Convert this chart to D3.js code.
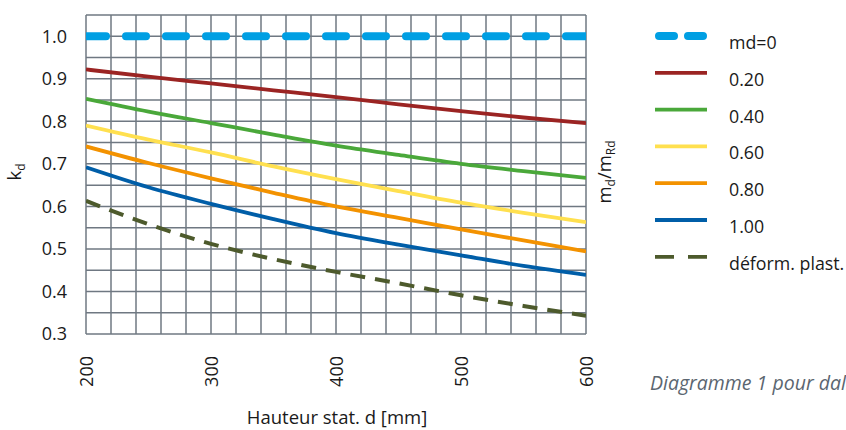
<!DOCTYPE html>
<html>
<head>
<meta charset="utf-8">
<script src="https://cdn.jsdelivr.net/npm/d3@7"></script>
<style>
  body { margin: 0; background: #fff; }
  svg text { font-family: "Open Sans", "Noto Sans", sans-serif; fill: #1a1a1a; }
</style>
</head>
<body>
<svg id="chart" width="846" height="430"></svg>
<script>
// hauteur statique d [mm]
const depths = [200, 250, 300, 350, 400, 450, 500, 550, 600];

// k_d for each m_d/m_Rd ratio
const kd000 = [1.0, 1.0, 1.0, 1.0, 1.0, 1.0, 1.0, 1.0, 1.0];
const kd020 = [0.922, 0.905, 0.889, 0.873, 0.857, 0.840, 0.824, 0.809, 0.796];
const kd040 = [0.853, 0.823, 0.796, 0.769, 0.743, 0.721, 0.700, 0.683, 0.667];
const kd060 = [0.790, 0.757, 0.727, 0.694, 0.664, 0.636, 0.609, 0.585, 0.563];
const kd080 = [0.741, 0.702, 0.666, 0.632, 0.600, 0.573, 0.546, 0.520, 0.494];
const kd100 = [0.692, 0.645, 0.606, 0.570, 0.537, 0.510, 0.485, 0.460, 0.439];
const kdPlast = [0.613, 0.558, 0.512, 0.476, 0.446, 0.419, 0.391, 0.366, 0.343];

const seriesNames = ["md=0", "0.20", "0.40", "0.60", "0.80", "1.00", "déform. plast."];

const xTicks = [200, 300, 400, 500, 600];
const yTicks = [0.3, 0.4, 0.5, 0.6, 0.7, 0.8, 0.9, 1.0];

const series = [
  { name: seriesNames[0], values: kd000, color: "#009fe3", width: 8, dash: "20,20", cap: "round", legendDash: "15,14" },
  { name: seriesNames[1], values: kd020, color: "#9b2423", width: 3.8 },
  { name: seriesNames[2], values: kd040, color: "#4aa83a", width: 3.8 },
  { name: seriesNames[3], values: kd060, color: "#ffe04f", width: 3.8 },
  { name: seriesNames[4], values: kd080, color: "#f39200", width: 3.8 },
  { name: seriesNames[5], values: kd100, color: "#005ea8", width: 3.8 },
  { name: seriesNames[6], values: kdPlast, color: "#4d5a2c", width: 4, dash: "15,10", legendDash: "19,14" }
];

const svg = d3.select("#chart");
const plotLeft = 86, plotRight = 586, plotTop = 15, plotBottom = 334;

const x = d3.scaleLinear().domain([200, 600]).range([plotLeft, plotRight]);
const y = d3.scaleLinear().domain([0.3, 1.05]).range([plotBottom, plotTop]);

// grid
const grid = svg.append("g").attr("stroke", "#6f7882").attr("stroke-width", 1.5);
grid.selectAll("line.v")
  .data(d3.range(200, 601, 20))
  .enter().append("line")
  .attr("x1", d => x(d)).attr("x2", d => x(d))
  .attr("y1", plotTop).attr("y2", plotBottom);
grid.selectAll("line.h")
  .data(d3.range(0, 16).map(i => 0.3 + i * 0.05))
  .enter().append("line")
  .attr("x1", plotLeft).attr("x2", plotRight)
  .attr("y1", d => y(d)).attr("y2", d => y(d));

// axes labels
svg.append("g").selectAll("text")
  .data(yTicks)
  .enter().append("text")
  .attr("x", 67).attr("y", d => y(d))
  .attr("dy", "0.35em")
  .attr("text-anchor", "end")
  .attr("font-size", 18)
  .text(d => d.toFixed(1));

svg.append("g").selectAll("text")
  .data(xTicks)
  .enter().append("text")
  .attr("transform", d => "translate(" + (x(d) + 6.5) + ",356) rotate(-90)")
  .attr("text-anchor", "end")
  .attr("font-size", 18)
  .text(d => d);

const kLabel = svg.append("text")
  .attr("transform", "translate(21,172) rotate(-90)")
  .attr("text-anchor", "middle")
  .attr("font-size", 18.5);
kLabel.append("tspan").text("k");
kLabel.append("tspan").attr("font-size", 12).attr("dy", 4).text("d");

svg.append("text")
  .attr("x", 337).attr("y", 424)
  .attr("text-anchor", "middle")
  .attr("font-size", 18.5)
  .text("Hauteur stat. d [mm]");

const mLabel = svg.append("text")
  .attr("transform", "translate(611,172) rotate(-90)")
  .attr("text-anchor", "middle")
  .attr("font-size", 18.5);
mLabel.append("tspan").text("m");
mLabel.append("tspan").attr("font-size", 12).attr("dy", 4).text("d");
mLabel.append("tspan").attr("dy", -4).text("/m");
mLabel.append("tspan").attr("font-size", 12).attr("dy", 4).text("Rd");

// curves
svg.append("clipPath").attr("id", "plot-clip")
  .append("rect").attr("x", plotLeft).attr("y", plotTop)
  .attr("width", plotRight - plotLeft).attr("height", plotBottom - plotTop);

const line = d3.line()
  .x((d, i) => x(depths[i]))
  .y(d => y(d))
  .curve(d3.curveMonotoneX);

svg.append("g").attr("clip-path", "url(#plot-clip)")
  .selectAll("path")
  .data(series)
  .enter().append("path")
  .attr("d", d => line(d.values))
  .attr("fill", "none")
  .attr("stroke", d => d.color)
  .attr("stroke-width", d => d.width)
  .attr("stroke-dasharray", d => d.dash || null)
  .attr("stroke-linecap", d => d.cap || "butt");

// legend
const legend = svg.append("g").selectAll("g")
  .data(series)
  .enter().append("g")
  .attr("transform", (d, i) => "translate(0," + (36 + i * 36.8) + ")");

legend.append("line")
  .attr("x1", d => d.cap === "round" ? 659 : 655)
  .attr("x2", d => d.cap === "round" ? 703 : 707)
  .attr("stroke", d => d.color)
  .attr("stroke-width", d => d.cap === "round" ? 8 : 3.8)
  .attr("stroke-linecap", d => d.cap || "butt")
  .attr("stroke-dasharray", d => d.legendDash || null);

legend.append("text")
  .attr("x", 729).attr("y", 13)
  .attr("font-size", 17.8)
  .text(d => d.name);

// caption runs past the right edge, as in the source page
svg.append("text")
  .attr("x", 650).attr("y", 390)
  .attr("font-size", 19.5)
  .attr("font-style", "italic")
  .style("fill", "#5b6670")
  .text("Diagramme 1 pour dalles");
</script>
</body>
</html>
